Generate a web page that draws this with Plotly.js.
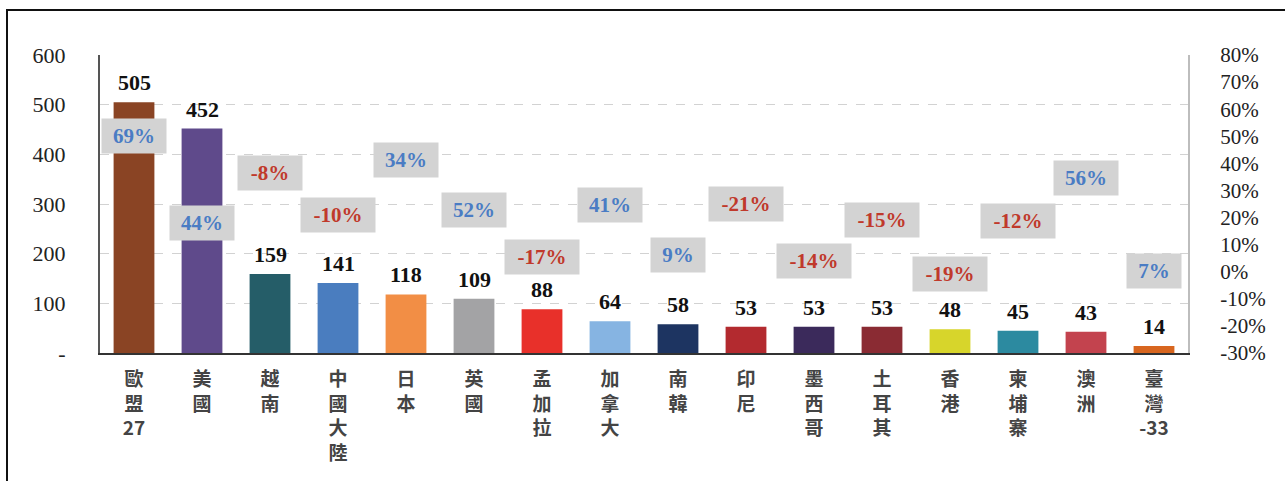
<!DOCTYPE html>
<html>
<head>
<meta charset="utf-8">
<script src="https://cdn.plot.ly/plotly-3.0.1.min.js"></script>
<style>
  html, body { margin: 0; padding: 0; background: #fff; }
  #wrap { position: relative; width: 1285px; height: 481px; overflow: hidden; }
  #chart { position: absolute; left: 0; top: 0; width: 1285px; height: 481px; }
  #frame { position: absolute; left: 6px; top: 9px; width: 1300px; height: 500px;
           border-left: 2px solid #111; border-top: 2px solid #111; pointer-events: none; }
</style>
</head>
<body>
<div id="wrap">
  <div id="chart"></div>
  <div id="frame"></div>
</div>
<script>
// ---- data ----
const categories = ["歐盟27", "美國", "越南", "中國大陸", "日本", "英國", "孟加拉", "加拿大",
                    "南韓", "印尼", "墨西哥", "土耳其", "香港", "柬埔寨", "澳洲", "臺灣-33"];
const values = [505, 452, 159, 141, 118, 109, 88, 64, 58, 53, 53, 53, 48, 45, 43, 14];
const growthPct = [69, 44, -8, -10, 34, 52, -17, 41, 9, -21, -14, -15, -19, -12, 56, 7];
const leftTickVals = [0, 100, 200, 300, 400, 500, 600];
const leftTickText = ["-", "100", "200", "300", "400", "500", "600"];
const rightTickVals = [-30, -20, -10, 0, 10, 20, 30, 40, 50, 60, 70, 80];

// ---- styles / layout helpers ----
const barColors = ["#8a4424", "#5f4a8b", "#255d68", "#4a7dbf", "#f28e45", "#a3a3a5", "#e8302a", "#86b4e2",
                   "#1d3461", "#b32a2f", "#3b2a5b", "#8a2b33", "#d7d52b", "#2c8aa0", "#c3434e", "#d8661f"];
// vertical placement of the growth boxes (in left-axis units), as laid out in the source chart
const pctBoxY = [437, 261, 362, 277, 388, 287, 194, 297, 198, 301, 186, 267, 160, 265, 352, 166];

const vertLabel = s => s.match(/-?\d+|./g).join("<br>");

const serif = "Liberation Serif, Times New Roman, serif";

const annotations = [];
categories.forEach((c, i) => {
  annotations.push({
    x: c, y: values[i], xref: "x", yref: "y",
    text: String(values[i]), showarrow: false,
    yanchor: "bottom", yshift: 5,
    font: { family: serif, size: 22, color: "#111", weight: "bold" }
  });
  const g = growthPct[i];
  const txt = g + "%";
  annotations.push({
    x: c, y: pctBoxY[i], xref: "x", yref: "y",
    text: txt, showarrow: false,
    bgcolor: "#d3d3d3", borderpad: 5,
    width: 10 * txt.length + 24, height: 24,
    font: { family: serif, size: 21, weight: "bold", color: g >= 0 ? "#4a7cc4" : "#c0392b" }
  });
});

const traces = [
  {
    type: "bar", x: categories, y: values,
    marker: { color: barColors }, hoverinfo: "x+y",
    yaxis: "y"
  },
  {
    type: "scatter", mode: "lines", x: categories, y: growthPct,
    yaxis: "y2", line: { width: 0 }, hoverinfo: "skip", showlegend: false,
    opacity: 0
  }
];

const layout = {
  width: 1285, height: 481,
  margin: { l: 100, r: 97, t: 55, b: 128, pad: 0 },
  paper_bgcolor: "#fff", plot_bgcolor: "#fff",
  showlegend: false,
  bargap: 0.4,
  xaxis: {
    type: "category",
    tickmode: "array", tickvals: categories, ticktext: categories.map(vertLabel),
    tickfont: { family: "Noto Sans CJK TC", size: 19, color: "#444", weight: "bold" },
    ticks: "", showgrid: false,
    showline: true, linecolor: "#333", linewidth: 2,
    ticklabelstandoff: 8, zeroline: false
  },
  yaxis: {
    range: [0, 600], tickmode: "array", tickvals: leftTickVals, ticktext: leftTickText,
    tickfont: { family: serif, size: 22, color: "#222" },
    showgrid: true, gridcolor: "#d2d2d2", griddash: "dash", gridwidth: 1,
    showline: true, linecolor: "#555", linewidth: 2,
    zeroline: false, ticks: "", ticklabelstandoff: 28
  },
  yaxis2: {
    overlaying: "y", side: "right",
    range: [-30, 80], tickmode: "array", tickvals: rightTickVals,
    ticktext: rightTickVals.map(v => v + "%"),
    tickfont: { family: serif, size: 21, color: "#222" },
    showgrid: false, zeroline: false,
    showline: true, linecolor: "#bdbdbd", linewidth: 2,
    ticks: "", ticklabelstandoff: 26
  },
  annotations: annotations
};

Plotly.newPlot("chart", traces, layout, { displayModeBar: false, staticPlot: true });
</script>
</body>
</html>
